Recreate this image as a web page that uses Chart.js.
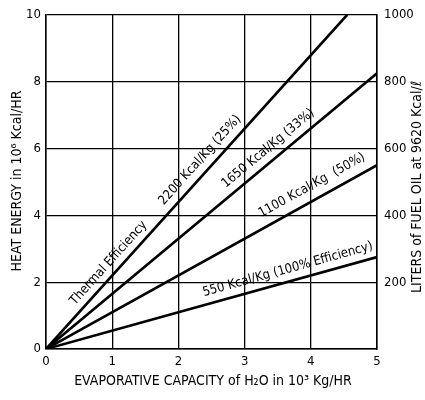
<!DOCTYPE html>
<html>
<head>
<meta charset="utf-8">
<script src="https://cdn.jsdelivr.net/npm/chart.js@4"></script>
<style>
  html, body { margin: 0; padding: 0; background: #fff; }
  #wrap { width: 425px; height: 400px; }
</style>
</head>
<body>
<div id="wrap"><canvas id="main-chart"></canvas></div>
<script>
// evaporative capacity (10^3 Kg/HR) vs heat energy (10^6 Kcal/HR)
const evap2200 = [0, 4.55];
const heat2200 = [0, 10];
const evap1650 = [0, 5];
const heat1650 = [0, 8.25];
const evap1100 = [0, 5];
const heat1100 = [0, 5.5];
const evap550 = [0, 5];
const heat550 = [0, 2.75];

const xTicks = [0, 1, 2, 3, 4, 5];
const leftTicks = [0, 2, 4, 6, 8, 10];
const rightTicks = [200, 400, 600, 800, 1000];

// text written along the lines: [text, x on line, slope, gap above line]
const lineNotes = [
    ["Thermal Efficiency", 1.07, 2.2, 11],
    ["2200 Kcal/Kg (25%)", 2.46, 2.2, 12],
    ["1650 Kcal/Kg (33%)", 3.47, 1.65, 12],
    ["1100 Kcal/Kg  (50%)", 4.12, 1.1, 14],
    ["550 Kcal/Kg (100% Efficiency)", 3.7, 0.55, 12],
];

const FONT = "'Liberation Sans Narrow', 'DejaVu Sans Condensed', 'Arial Narrow', sans-serif";

function pairs(xs, ys) {
    return xs.map((x, i) => ({ x: x, y: ys[i] }));
}

function lineSet(xs, ys) {
    return {
        data: pairs(xs, ys),
        borderColor: "#000",
        borderWidth: 2.6,
        pointRadius: 0,
        fill: false,
        tension: 0,
    };
}

const notesPlugin = {
    id: "notes",
    afterDatasetsDraw(chart) {
        const ctx = chart.ctx;
        const xs = chart.scales.x;
        const ys = chart.scales.y;
        ctx.save();
        ctx.fillStyle = "#000";
        ctx.font = "13px " + FONT;
        ctx.textAlign = "center";
        ctx.textBaseline = "middle";
        lineNotes.forEach(([text, xv, slope, gap]) => {
            const px = xs.getPixelForValue(xv);
            const py = ys.getPixelForValue(xv * slope);
            const dx = xs.getPixelForValue(xv + 1) - px;
            const dy = ys.getPixelForValue((xv + 1) * slope) - py;
            ctx.save();
            ctx.translate(px, py);
            ctx.rotate(Math.atan2(dy, dx));
            ctx.fillText(text, 0, -gap);
            ctx.restore();
        });

        // axis titles (both side titles read bottom to top)
        ctx.font = "14px " + FONT;
        ctx.save();
        ctx.translate(17, 181);
        ctx.rotate(-Math.PI / 2);
        ctx.fillText("HEAT ENERGY in 10\u2076 Kcal/HR", 0, 0);
        ctx.restore();
        ctx.save();
        ctx.translate(417, 187);
        ctx.rotate(-Math.PI / 2);
        ctx.fillText("LITERS of FUEL OIL at 9620 Kcal/\u2113", 0, 0);
        ctx.restore();
        ctx.fillText("EVAPORATIVE CAPACITY of H\u2082O in 10\u00B3 Kg/HR", 213, 381);
        ctx.restore();
    },
};

const chartCanvas = document.getElementById("main-chart");

const tickFont = { family: FONT, size: 13 };

const heatChart = new Chart(chartCanvas, {
    type: "line",
    data: {
        datasets: [
            lineSet(evap2200, heat2200),
            lineSet(evap1650, heat1650),
            lineSet(evap1100, heat1100),
            lineSet(evap550, heat550),
        ],
    },
    options: {
        responsive: true,
        maintainAspectRatio: false,
        animation: false,
        layout: {
            padding: { top: 13, left: 0, right: 0, bottom: 0 },
        },
        scales: {
            x: {
                type: "linear",
                min: 0,
                max: 5,
                afterBuildTicks: (s) => { s.ticks = xTicks.map(v => ({ value: v })); },
                afterFit: (s) => { s.height = 51; },
                ticks: { color: "#000", font: tickFont, padding: 5, callback: (v) => String(v) },
                grid: { color: "#000", lineWidth: 1.3, drawTicks: false },
                border: { color: "#000", width: 1.5 },
            },
            y: {
                type: "linear",
                position: "left",
                min: 0,
                max: 10,
                afterBuildTicks: (s) => { s.ticks = leftTicks.map(v => ({ value: v })); },
                afterFit: (s) => { s.width = 46; },
                ticks: { color: "#000", font: tickFont, padding: 5, callback: (v) => String(v) },
                grid: { color: "#000", lineWidth: 1.3, drawTicks: false },
                border: { color: "#000", width: 1.5 },
            },
            y2: {
                type: "linear",
                position: "right",
                min: 0,
                max: 1000,
                afterBuildTicks: (s) => { s.ticks = rightTicks.map(v => ({ value: v })); },
                afterFit: (s) => { s.width = 48; },
                ticks: { color: "#000", font: tickFont, padding: 7, callback: (v) => String(v) },
                grid: { drawOnChartArea: false, drawTicks: false },
                border: { color: "#000", width: 1.5 },
            },
        },
        plugins: {
            legend: { display: false },
            tooltip: { enabled: false },
        },
    },
    plugins: [notesPlugin],
});
</script>
</body>
</html>
